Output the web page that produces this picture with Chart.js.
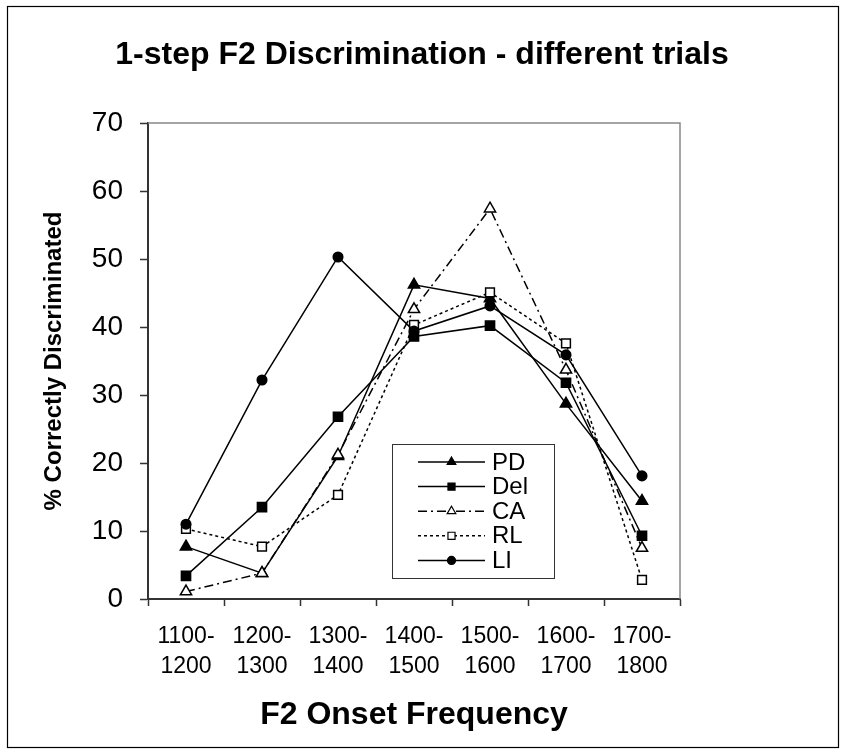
<!DOCTYPE html>
<html>
<head>
<meta charset="utf-8">
<script src="https://cdn.jsdelivr.net/npm/chart.js@4.4.0/dist/chart.umd.min.js"></script>
<style>
  html, body { margin: 0; padding: 0; background: #fff; }
  #wrap { width: 844px; height: 752px; }
</style>
</head>
<body>
<div id="wrap"><canvas id="f2chart" width="844" height="752"></canvas></div>
<script>
// F2 onset frequency bands (two-line tick labels)
var categories = [
  ["1100-", "1200"], ["1200-", "1300"], ["1300-", "1400"], ["1400-", "1500"],
  ["1500-", "1600"], ["1600-", "1700"], ["1700-", "1800"]
];

// % correctly discriminated, one array per listener group
var pdValues  = [7.7, 3.8, 21.0, 46.2, 44.2, 28.7, 14.4];
var delValues = [3.4, 13.5, 26.8, 38.6, 40.2, 31.8, 9.3];
var caValues  = [1.1, 3.8, 21.2, 42.6, 57.4, 33.7, 7.5];
var rlValues  = [10.3, 7.7, 15.3, 40.3, 45.1, 37.6, 2.8];
var liValues  = [11.0, 32.2, 50.3, 39.4, 43.1, 35.9, 18.1];

// y axis range
var yMin = 0, yMax = 70, yStep = 10;

var FONT = "'Liberation Sans', Arial, sans-serif";

function series(label, values, style, filled, radius, dash, order) {
  return {
    label: label,
    data: values,
    borderColor: "#000",
    borderWidth: 1.5,
    borderDash: dash,
    backgroundColor: filled ? "#000" : "#fff",
    pointStyle: style,
    pointRadius: radius,
    pointHoverRadius: radius,
    pointBorderColor: "#000",
    pointBackgroundColor: filled ? "#000" : "#fff",
    pointBorderWidth: 1.5,
    tension: 0,
    fill: false,
    order: order // later series drawn on top, like the original
  };
}

var datasets = [
  series("PD",  pdValues,  "triangle", true,  6.5, [],           5),
  series("Del", delValues, "rect",     true,  6.5, [],           4),
  series("CA",  caValues,  "triangle", false, 6.5, [9, 4, 2, 4], 3),
  series("RL",  rlValues,  "rect",     false, 6.2, [3, 3],       2),
  series("LI",  liValues,  "circle",   true,  4.8, [],           1)
];

// legend box drawn inside the plot area
var legendBox = {
  id: "legendBox",
  afterDatasetsDraw: function(chart) {
    var ctx = chart.ctx;
    var left = 392, top = 444, width = 162, height = 134;
    ctx.save();
    ctx.fillStyle = "#fff";
    ctx.fillRect(left, top, width, height);
    ctx.strokeStyle = "#333";
    ctx.lineWidth = 1;
    ctx.strokeRect(left + 0.5, top + 0.5, width, height);
    chart.data.datasets.forEach(function(ds, i) {
      var y = top + 18 + i * 24.6;
      ctx.strokeStyle = "#000";
      ctx.lineWidth = 1.5;
      ctx.setLineDash(ds.borderDash);
      ctx.beginPath();
      ctx.moveTo(418, y);
      ctx.lineTo(485, y);
      ctx.stroke();
      ctx.setLineDash([]);
      ctx.fillStyle = ds.pointBackgroundColor;
      ctx.strokeStyle = "#000";
      ctx.lineWidth = 1.2;
      Chart.helpers.drawPoint(ctx, {
        pointStyle: ds.pointStyle,
        radius: ds.pointStyle === "circle" ? 4 : 5,
        rotation: 0,
        borderWidth: 1.2
      }, 451.5, y);
      ctx.fillStyle = "#000";
      ctx.font = "24px " + FONT;
      ctx.textBaseline = "middle";
      ctx.textAlign = "left";
      ctx.fillText(ds.label, 492, y + 1);
    });
    ctx.restore();
  }
};

// frame round the whole figure and the grey top/right plot edges
var frames = {
  id: "frames",
  afterDraw: function(chart) {
    var ctx = chart.ctx, a = chart.chartArea;
    ctx.save();
    ctx.strokeStyle = "#000";
    ctx.lineWidth = 1.2;
    ctx.strokeRect(7.5, 6.5, 831, 741);
    ctx.strokeStyle = "#888";
    ctx.lineWidth = 1.5;
    ctx.beginPath();
    ctx.moveTo(a.left, a.top);
    ctx.lineTo(a.right, a.top);
    ctx.lineTo(a.right, a.bottom);
    ctx.stroke();
    ctx.restore();
  }
};

var ctx = document.getElementById("f2chart").getContext("2d");

var f2Chart = new Chart(ctx, {
  type: "line",
  data: { labels: categories, datasets: datasets },
  plugins: [legendBox, frames],
  options: {
    responsive: false,
    animation: false,
    layout: { padding: 0 },
    plugins: {
      legend: { display: false },
      tooltip: { enabled: false },
      title: {
        display: true,
        text: "1-step F2 Discrimination - different trials",
        color: "#000",
        font: { family: FONT, size: 32, weight: "bold", lineHeight: 1.2 },
        padding: { top: 36, bottom: 48.6 }
      }
    },
    scales: {
      x: {
        offset: true,
        grid: {
          offset: true,
          drawOnChartArea: false,
          drawTicks: true,
          tickLength: 7,
          tickWidth: 1.5,
          tickColor: "#333"
        },
        border: { display: true, color: "#333", width: 2 },
        ticks: {
          color: "#000",
          padding: 16,
          maxRotation: 0,
          autoSkip: false,
          font: { family: FONT, size: 23, lineHeight: 1.3 }
        },
        title: {
          display: true,
          text: "F2 Onset Frequency",
          color: "#000",
          font: { family: FONT, size: 32, weight: "bold", lineHeight: 1.2 },
          padding: { top: 0, bottom: 18 }
        },
        afterFit: function(scale) { scale.height = 153; }
      },
      y: {
        min: yMin,
        max: yMax,
        grid: {
          drawOnChartArea: false,
          drawTicks: true,
          tickLength: 8,
          tickWidth: 1.5,
          tickColor: "#333"
        },
        border: { display: true, color: "#333", width: 2 },
        ticks: {
          stepSize: yStep,
          color: "#000",
          padding: 17,
          font: { family: FONT, size: 28 }
        },
        title: {
          display: true,
          text: "% Correctly Discriminated",
          color: "#000",
          font: { family: FONT, size: 24, weight: "bold", lineHeight: 1.2 },
          padding: { top: 40, bottom: 0 }
        },
        afterFit: function(scale) { scale.width = 148; }
      },
      // empty right-hand axis that only reserves the blank margin
      yRight: {
        position: "right",
        display: true,
        min: yMin,
        max: yMax,
        grid: { display: false },
        border: { display: false },
        ticks: { display: false },
        afterFit: function(scale) { scale.width = 164; }
      }
    }
  }
});
</script>
</body>
</html>
